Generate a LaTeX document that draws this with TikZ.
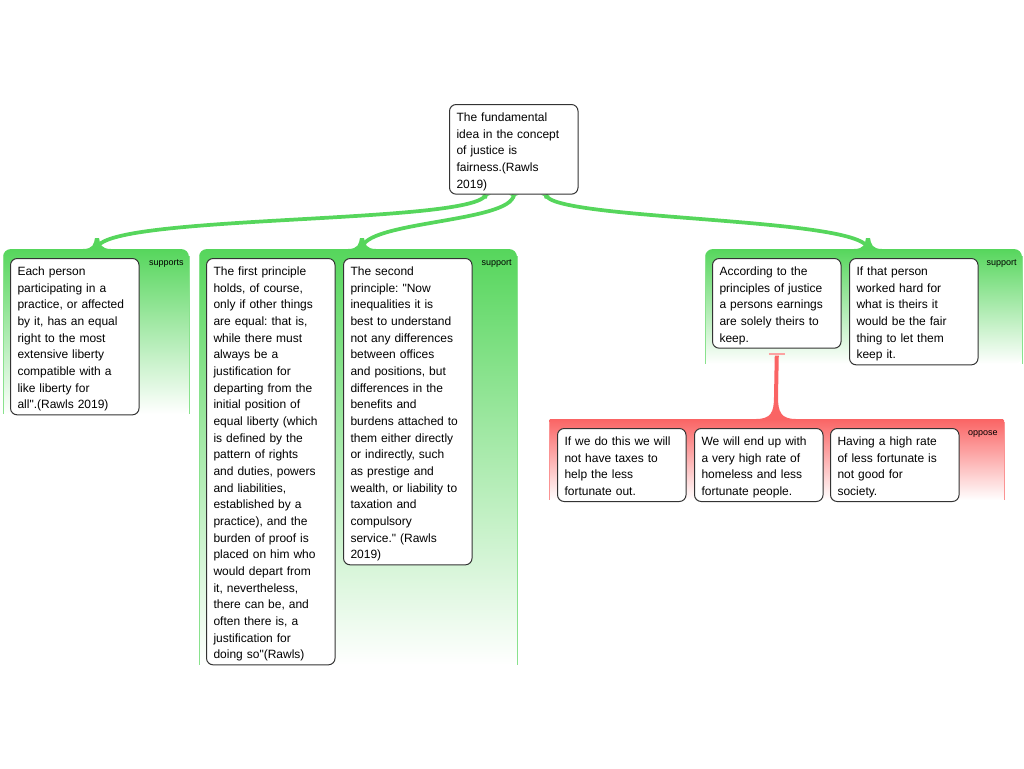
\documentclass[tikz,border=0pt]{standalone}
\usepackage{fontspec}
\setmainfont{Liberation Sans}[Ligatures=TeXOff]
\frenchspacing
\usepackage{tikz}
\usetikzlibrary{calc}
\definecolor{supgreen}{RGB}{86,214,92}
\definecolor{oppred}{RGB}{250,100,100}
\definecolor{boxline}{RGB}{51,51,51}
\pgfdeclarelayer{back}
\pgfsetlayers{back,main}

\begin{document}
\begin{tikzpicture}[x=0.75pt, y=-0.75pt,
  claim/.style={draw=boxline, line width=0.75pt, fill=white, rounded corners=5pt,
    anchor=north west, align=left, text width=85.9pt, inner xsep=5.25pt, inner ysep=2.25pt,
    font=\fontsize{9}{12.5}\selectfont,
    execute at begin node=\rule{0pt}{10.5pt},
    execute at end node=\rule[-2.25pt]{0pt}{2.25pt}},
  tag/.style={anchor=east, inner sep=0pt, font=\fontsize{6.75}{8}\selectfont},
  link/.style={draw=supgreen, line width=2.8pt},
  edge line/.style={line width=0.75pt}]
  \useasboundingbox (0,0) rectangle (1024,768);

  % claims
  \node[claim] (root) at (449,104) {The fundamental\\ idea in the concept\\ of justice is\\ fairness.(Rawls\\ 2019)};

  \node[claim] (a1) at (10,258) {Each person\\ participating in a\\ practice, or affected\\ by it, has an equal\\ right to the most\\ extensive liberty\\ compatible with a\\ like liberty for\\ all".(Rawls 2019)};

  \node[claim] (b1) at (206,258) {The first principle\\ holds, of course,\\ only if other things\\ are equal: that is,\\ while there must\\ always be a\\ justification for\\ departing from the\\ initial position of\\ equal liberty (which\\ is defined by the\\ pattern of rights\\ and duties, powers\\ and liabilities,\\ established by a\\ practice), and the\\ burden of proof is\\ placed on him who\\ would depart from\\ it, nevertheless,\\ there can be, and\\ often there is, a\\ justification for\\ doing so"(Rawls)};
  \node[claim] (b2) at (343,258) {The second\\ principle: "Now\\ inequalities it is\\ best to understand\\ not any differences\\ between offices\\ and positions, but\\ differences in the\\ benefits and\\ burdens attached to\\ them either directly\\ or indirectly, such\\ as prestige and\\ wealth, or liability to\\ taxation and\\ compulsory\\ service." (Rawls\\ 2019)};

  \node[claim] (c1) at (712,258) {According to the\\ principles of justice\\ a persons earnings\\ are solely theirs to\\ keep.};
  \node[claim] (c2) at (849,258) {If that person\\ worked hard for\\ what is theirs it\\ would be the fair\\ thing to let them\\ keep it.};

  \node[claim] (d1) at (557,428) {If we do this we will\\ not have taxes to\\ help the less\\ fortunate out.};
  \node[claim] (d2) at (694,428) {We will end up with\\ a very high rate of\\ homeless and less\\ fortunate people.};
  \node[claim] (d3) at (830,428) {Having a high rate\\ of less fortunate is\\ not good for\\ society.};

  % group labels
  \node[tag] (t1) at (184,264) {supports};
  \node[tag] (t2) at (512,264) {support};
  \node[tag] (t3) at (1017,264) {support};
  \node[tag] (t4) at (998,434) {oppose};

  \coordinate (g1) at (97,249);
  \coordinate (g2) at (362,249);
  \coordinate (g3) at (868,249);
  \coordinate (rg) at (776,419);
  \coordinate (bar) at ($(c1.south)+(0,5)$);

  \begin{pgfonlayer}{back}
    % groups
    \shade[rounded corners=6pt, top color=supgreen, bottom color=white] (3,249) rectangle (189,414);
    \draw[edge line, supgreen!70] (3,256) -- (3,414);
    \draw[edge line, supgreen!70] (189,256) -- (189,414);

    \shade[rounded corners=6pt, top color=supgreen, bottom color=white] (199,249) rectangle (517,665);
    \draw[edge line, supgreen!70] (199,256) -- (199,665);
    \draw[edge line, supgreen!70] (517,256) -- (517,665);

    \shade[rounded corners=6pt, top color=supgreen, bottom color=white] (705,249) rectangle (1022,364);
    \draw[edge line, supgreen!70] (705,256) -- (705,364);
    \draw[edge line, supgreen!70] (1022,256) -- (1022,364);

    \shade[rounded corners=1pt, top color=oppred, bottom color=white] (549,419) rectangle (1004,500);
    \draw[edge line, oppred!70] (549,422) -- (549,500);
    \draw[edge line, oppred!70] (1004,422) -- (1004,500);

    % green links
    \draw[link] ($(root.south)+(-28,0)$) .. controls +(-10,30) and +(0,-35) .. (g1);
    \draw[link] (root.south) .. controls +(-2,28) and +(0,-28) .. (g2);
    \draw[link] ($(root.south)+(32,0)$) .. controls +(5,26) and +(-2,-32) .. (g3);

    \fill[supgreen] (g1) ++(-14,0) .. controls +(10,0) and +(-1,6) .. ++(12,-11) -- ++(4,0) .. controls +(1,6) and +(-10,0) .. ++(12,11) -- cycle;
    \fill[supgreen] (g2) ++(-14,0) .. controls +(10,0) and +(-1,6) .. ++(12,-11) -- ++(4,0) .. controls +(1,6) and +(-10,0) .. ++(12,11) -- cycle;
    \fill[supgreen] (g3) ++(-14,0) .. controls +(10,0) and +(-1,6) .. ++(12,-11) -- ++(4,0) .. controls +(1,6) and +(-10,0) .. ++(12,11) -- cycle;

    \fill[supgreen] ($(root.south)+(-33,0)$) .. controls +(3,0) and +(0,-2) .. ++(4,4) -- ++(2,0) .. controls +(0,-2) and +(-3,0) .. ++(4,-4) -- cycle;
    \fill[supgreen] ($(root.south)+(-5,0)$) .. controls +(3,0) and +(0,-2) .. ++(4,4) -- ++(2,0) .. controls +(0,-2) and +(-3,0) .. ++(4,-4) -- cycle;
    \fill[supgreen] ($(root.south)+(27,0)$) .. controls +(3,0) and +(0,-2) .. ++(4,4) -- ++(2,0) .. controls +(0,-2) and +(-3,0) .. ++(4,-4) -- cycle;

    % red link
    \fill[oppred] (rg) ++(-20,0) .. controls +(15,0) and +(0,15) .. ++(18,-22) -- ($(bar)+(-2,2)$) -- ($(bar)+(2,2)$) -- ($(rg)+(2,-22)$) .. controls +(0,15) and +(-15,0) .. ($(rg)+(20,0)$) -- cycle;
    \draw[oppred!60, line width=1.5pt] (bar) ++(-8,0) -- ++(16,0);
  \end{pgfonlayer}
\end{tikzpicture}
\end{document}
